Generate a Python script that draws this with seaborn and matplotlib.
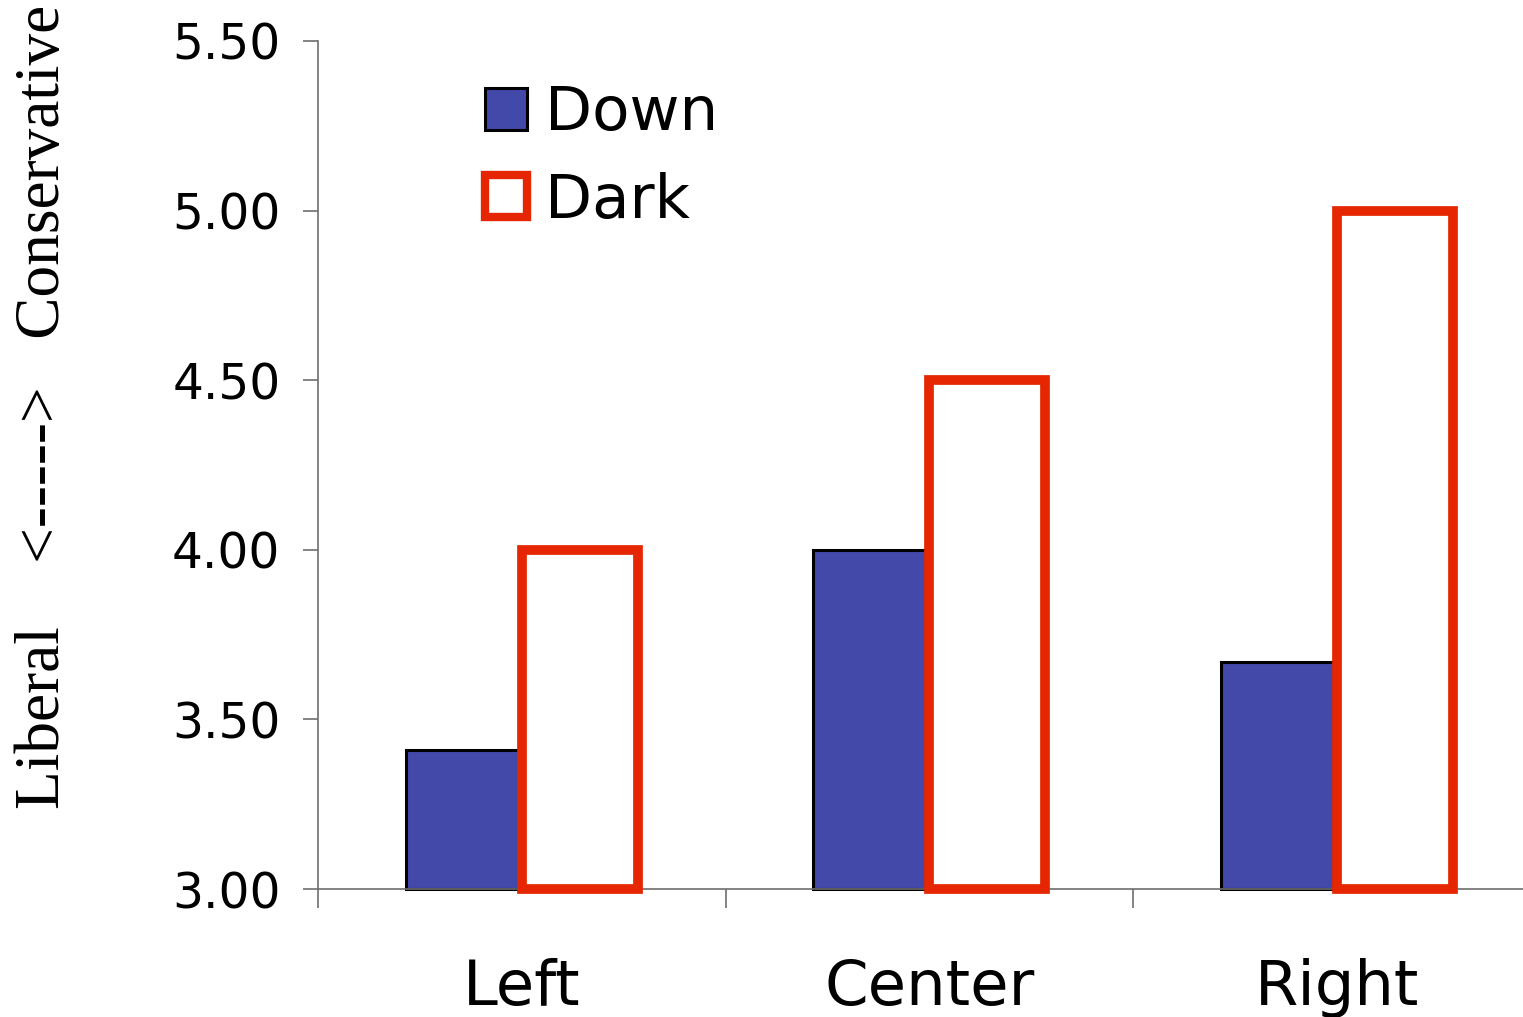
from matplotlib import pyplot as plt
from matplotlib.patches import Patch
import pandas as pd
import seaborn as sns

# Chart data
positions = ["Left", "Center", "Right"]
down_values = [3.41, 4.00, 3.67]
dark_values = [4.00, 4.50, 5.00]
series_names = ["Down", "Dark"]
y_ticks = [3.00, 3.50, 4.00, 4.50, 5.00, 5.50]
y_floor = 3.0

DOWN_COLOR = "#4349A8"
DARK_COLOR = "#E52600"
AXIS_GRAY = "#6E6E6E"

df = pd.DataFrame({
    "Position": positions * 2,
    "Score": down_values + dark_values,
    "Condition": [series_names[0]] * 3 + [series_names[1]] * 3,
})

sns.set_theme(style="white")
plt.rcParams["font.family"] = ["DejaVu Sans"]
plt.rcParams["text.color"] = "black"
plt.rcParams["xtick.color"] = "black"
plt.rcParams["ytick.color"] = "black"

fig = plt.figure(figsize=(15.23, 10.17), dpi=100)
ax = fig.add_axes([318 / 1523, 1 - 889 / 1017, 1205 / 1523, 848 / 1017])

sns.barplot(data=df, x="Position", y="Score", hue="Condition",
            order=positions, hue_order=series_names,
            width=0.57, gap=0, legend=False, ax=ax)

# Bars start at the axis floor so their bottom edges show, like the original
for container in ax.containers:
    for bar in container:
        top = bar.get_y() + bar.get_height()
        bar.set_y(y_floor)
        bar.set_height(top - y_floor)

# Style the two series
for bar in ax.containers[0]:
    bar.set_facecolor(DOWN_COLOR)
    bar.set_edgecolor("black")
    bar.set_linewidth(2.2)
    bar.set_clip_on(False)
for bar in ax.containers[1]:
    bar.set_facecolor("white")
    bar.set_edgecolor(DARK_COLOR)
    bar.set_linewidth(7)
    bar.set_zorder(3)
    bar.set_clip_on(False)

ax.set_ylim(3.0, 5.5)
ax.set_xlim(-0.5, -0.5 + 1205 / 407.5)
ax.set_yticks(y_ticks)
ax.set_yticklabels([f"{v:.2f}" for v in y_ticks], fontsize=35)
ax.set_xticks(range(len(positions)))
ax.set_xticklabels(positions, fontsize=45)
ax.set_xticks([-0.5, 0.5, 1.5], minor=True)
ax.tick_params(axis="x", which="major", length=0, pad=50, bottom=True)
ax.tick_params(axis="x", which="minor", length=14, width=1.2,
               color=AXIS_GRAY, direction="out", bottom=True)
ax.tick_params(axis="y", length=11, width=1.2, color=AXIS_GRAY,
               direction="out", pad=16, left=True)
ax.set_xlabel("")
ax.set_ylabel("")

sns.despine(ax=ax)
for side in ["left", "bottom"]:
    ax.spines[side].set_color(AXIS_GRAY)
    ax.spines[side].set_linewidth(1.2)

# Legend
handles = [
    Patch(facecolor=DOWN_COLOR, edgecolor="black", linewidth=2.2, label="Down"),
    Patch(facecolor="white", edgecolor=DARK_COLOR, linewidth=6, label="Dark"),
]
fig.legend(handles=handles, loc="upper left",
           bbox_to_anchor=(485 / 1523, 1 - 84 / 1017),
           frameon=False, fontsize=44, handlelength=0.68, handleheight=0.68,
           handletextpad=0.3, labelspacing=0.47, borderpad=0, borderaxespad=0)

# Vertical axis caption in serif type
fig.text(44 / 1523, 1 - 407 / 1017, "Liberal    <----->   Conservative",
         rotation=90, ha="center", va="center", fontsize=45.5,
         family=["Liberation Serif", "DejaVu Serif"])

fig.savefig("out.png", dpi=100)
